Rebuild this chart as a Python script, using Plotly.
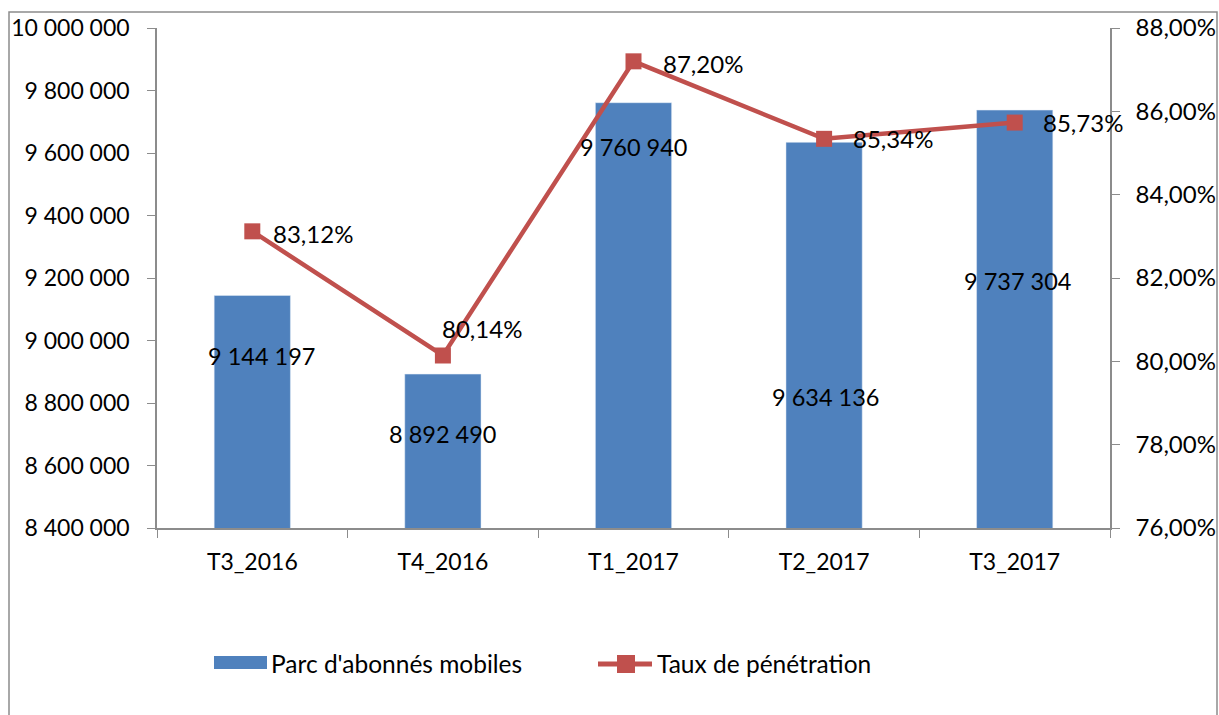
import plotly.graph_objects as go

categories = ["T3_2016", "T4_2016", "T1_2017", "T2_2017", "T3_2017"]
abonnes = [9144197, 8892490, 9760940, 9634136, 9737304]
taux = [83.12, 80.14, 87.20, 85.34, 85.73]
abonnes_labels = ["9 144 197", "8 892 490", "9 760 940", "9 634 136", "9 737 304"]
taux_labels = ["83,12%", "80,14%", "87,20%", "85,34%", "85,73%"]
left_ticks = [8400000, 8600000, 8800000, 9000000, 9200000, 9400000, 9600000, 9800000, 10000000]
left_ticktext = ["8 400 000", "8 600 000", "8 800 000", "9 000 000", "9 200 000",
                 "9 400 000", "9 600 000", "9 800 000", "10 000 000"]
right_ticks = [76, 78, 80, 82, 84, 86, 88]
right_ticktext = ["76,00%", "78,00%", "80,00%", "82,00%", "84,00%", "86,00%", "88,00%"]
series_names = ["Parc d'abonnés mobiles", "Taux de pénétration"]

# label placement (style): bar label y in data units, offsets in px
bar_label_y = [8950000, 8700000, 9620000, 8820000, 9190000]
bar_label_xshift = [9, 0, 0, 1, 3]
pct_xshift = [19, -3, 27, 27, 26]
pct_yshift = [-2, 27, -2, 0, 0]

FONT = "Lato"
FS_TICK = 23
FS_RTICK = 24
FS_LABEL = 23.5
FS_PCT = 24
FS_LEG = 24.5
BLUE = "#4F81BD"
RED = "#C0504D"
AXIS = "#8C8C8C"

W, H = 1219, 715
L, R, T, B = 157, 109, 28, 187
PW, PH = W - L - R, H - T - B


def px(x):
    return (x - L) / PW


def py(y):
    return 1 - (y - T) / PH


fig = go.Figure()
fig.add_trace(go.Bar(
    x=categories, y=abonnes, name=series_names[0],
    marker=dict(color=BLUE), width=0.4, yaxis="y", showlegend=False,
))
fig.add_trace(go.Scatter(
    x=categories, y=taux, name=series_names[1], mode="lines+markers",
    line=dict(color=RED, width=4.5),
    marker=dict(symbol="square", size=16, color=RED),
    yaxis="y2", showlegend=False,
))

annotations = []
for i, c in enumerate(categories):
    annotations.append(dict(
        x=c, y=bar_label_y[i], xref="x", yref="y", text=abonnes_labels[i],
        showarrow=False, xshift=bar_label_xshift[i],
        font=dict(family=FONT, size=FS_LABEL, color="black"),
    ))
    annotations.append(dict(
        x=c, y=taux[i], xref="x", yref="y2", text=taux_labels[i],
        showarrow=False, xanchor="left", xshift=pct_xshift[i], yshift=pct_yshift[i],
        font=dict(family=FONT, size=FS_PCT, color="black"),
    ))

# custom legend
leg_y = 663
annotations.append(dict(x=px(269), y=py(leg_y), xref="paper", yref="paper",
                        text=series_names[0], showarrow=False, xanchor="left",
                        yanchor="middle", font=dict(family=FONT, size=FS_LEG, color="black")))
annotations.append(dict(x=px(655), y=py(leg_y), xref="paper", yref="paper",
                        text=series_names[1], showarrow=False, xanchor="left",
                        yanchor="middle", font=dict(family=FONT, size=FS_LEG, color="black")))

shapes = [
    dict(type="rect", xref="paper", yref="paper",
         x0=px(9), x1=px(1217), y0=py(720), y1=py(12),
         line=dict(color=AXIS, width=1.5), fillcolor="rgba(0,0,0,0)", layer="below"),
    dict(type="rect", xref="paper", yref="paper",
         x0=px(214), x1=px(267), y0=py(669), y1=py(656),
         line=dict(width=0), fillcolor=BLUE),
    dict(type="line", xref="paper", yref="paper",
         x0=px(598), x1=px(652), y0=py(664), y1=py(664),
         line=dict(color=RED, width=5)),
    dict(type="rect", xref="paper", yref="paper",
         x0=px(617), x1=px(635), y0=py(673), y1=py(655),
         line=dict(width=0), fillcolor=RED),
]

fig.update_layout(
    width=W, height=H,
    margin=dict(l=L, r=R, t=T, b=B, autoexpand=False),
    paper_bgcolor="white", plot_bgcolor="white",
    font=dict(family=FONT, size=FS_TICK, color="black"),
    showlegend=False,
    xaxis=dict(
        type="category", range=[-0.5, len(categories) - 0.5],
        showline=True, linecolor=AXIS, linewidth=1.5,
        ticks="outside", tickson="boundaries", ticklen=8, tickcolor=AXIS,
        showgrid=False, tickfont=dict(family=FONT, size=FS_TICK), ticklabelstandoff=13,
        automargin=False,
    ),
    yaxis=dict(
        range=[8400000, 10000000], tickvals=left_ticks, ticktext=left_ticktext,
        showline=True, linecolor=AXIS, linewidth=1.5, ticks="outside", ticklen=8,
        tickcolor=AXIS, showgrid=False, zeroline=False,
        tickfont=dict(family=FONT, size=FS_TICK), ticklabelstandoff=13, automargin=False,
    ),
    yaxis2=dict(
        range=[76, 88], tickvals=right_ticks, ticktext=right_ticktext,
        overlaying="y", side="right", showline=True, linecolor=AXIS, linewidth=1.5,
        ticks="outside", ticklen=8, tickcolor=AXIS, showgrid=False, zeroline=False,
        tickfont=dict(family=FONT, size=FS_RTICK), ticklabelstandoff=11, automargin=False,
    ),
    annotations=annotations,
    shapes=shapes,
)

fig.write_html("out.html")
